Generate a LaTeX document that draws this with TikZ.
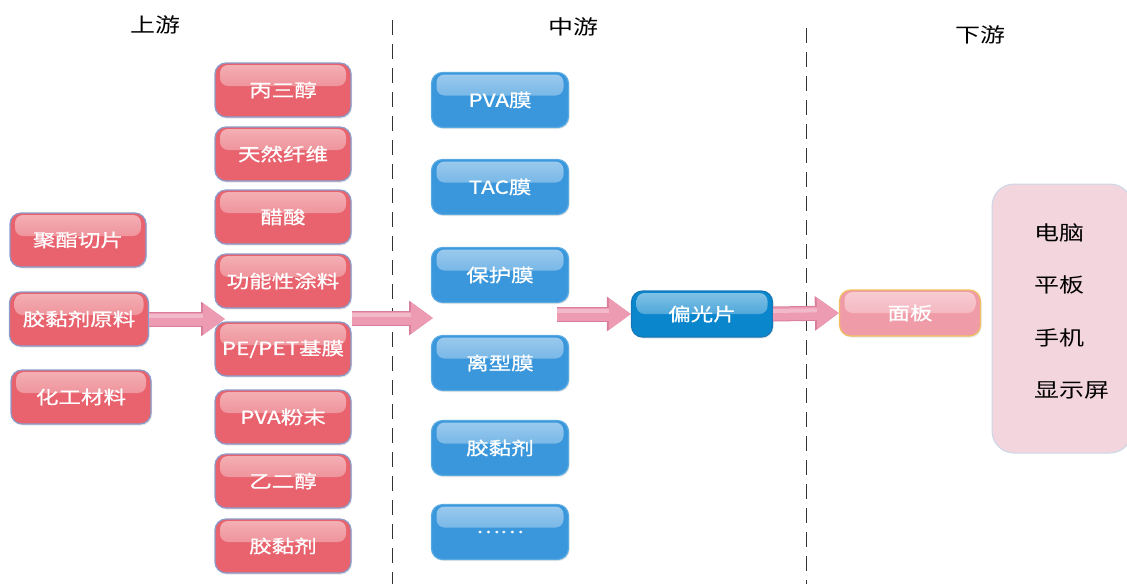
\documentclass[tikz,border=0pt]{standalone}
\usepackage{fontspec}
\newfontfamily\cjk[FakeStretch=1.25]{Noto Sans CJK SC}
\newfontfamily\cjkw[FakeStretch=1.25,FakeBold=0.8]{Noto Sans CJK SC}
\usetikzlibrary{arrows.meta,shadows}
\definecolor{redfill}{HTML}{E8636E}
\definecolor{redline}{HTML}{8A9CCB}
\definecolor{bluefill}{HTML}{3A97DC}
\definecolor{blueline}{HTML}{5AAAE2}
\definecolor{darkblue}{HTML}{0A86CC}
\definecolor{darkblueline}{HTML}{1577B8}
\definecolor{panelfill}{HTML}{F09CA8}
\definecolor{panelline}{HTML}{F0C060}
\definecolor{rightfill}{HTML}{F3D5DE}
\definecolor{rightline}{HTML}{CAD7E8}
\definecolor{arrowfill}{HTML}{EC9BB3}
\definecolor{arrowline}{HTML}{D97D9C}
\begin{document}
\begin{tikzpicture}[x=1pt,y=-1pt,
  gloss/.style={fill=#1, path picture={\shade[top color=white!50!#1, bottom color=#1!94!white, rounded corners=8pt]
     ([xshift=5pt,yshift=-2pt]path picture bounding box.north west) rectangle
     ([xshift=-5pt,yshift=-23pt]path picture bounding box.north east);}},
  box/.style={rounded corners=11pt, line width=1.2pt, minimum width=136pt, minimum height=54pt,
     text=white, font=\cjkw\fontsize{18}{21}\selectfont, inner sep=0pt,
     drop shadow={opacity=0.2, shadow xshift=1pt, shadow yshift=-1.5pt}},
  redbox/.style={box, gloss=redfill, draw=redline},
  bluebox/.style={box, gloss=bluefill, draw=blueline, minimum width=137pt, minimum height=55pt},
  header/.style={font=\cjk\fontsize{20}{23}\selectfont, text=black},
  item/.style={font=\cjk\fontsize{20}{23}\selectfont, text=black, anchor=west, inner sep=0pt},
  divider/.style={line width=1pt, black!80, dash pattern=on 15pt off 9pt},
  blockarrow/.style={line width=13pt, draw=arrowfill, -{Triangle[width=30pt,length=22pt]},
     preaction={draw=arrowline, line width=15pt, -{Triangle[width=33pt,length=24pt]}},
     postaction={draw=white, draw opacity=0.3, line width=4pt, shorten >=22pt, transform canvas={yshift=3pt}, -}}
]
\useasboundingbox (0,0) rectangle (1127,584);

% headers
\node[header] (hup) at (155,25) {上游};
\node[header] (hmid) at (573,27) {中游};
\node[header] (hdown) at (980,35) {下游};

% dividers
\coordinate (d1t) at (392,20); \coordinate (d1b) at (392,584);
\coordinate (d2t) at (806,28); \coordinate (d2b) at (806,584);
\draw[divider] (d1t) -- (d1b);
\draw[divider] (d2t) -- (d2b);

% left column
\node[redbox] (a1) at (78,240) {聚酯切片};
\node[redbox, minimum width=139pt] (a2) at (79,319) {胶黏剂原料};
\node[redbox, minimum width=140pt] (a3) at (81,397) {化工材料};

% second column
\node[redbox] (b1) at (283,90) {丙三醇};
\node[redbox] (b2) at (283,154) {天然纤维};
\node[redbox] (b3) at (283,217) {醋酸};
\node[redbox] (b4) at (283,281) {功能性涂料};
\node[redbox] (b5) at (283,349) {PE/PET基膜};
\node[redbox] (b6) at (283,417) {PVA粉末};
\node[redbox] (b7) at (283,481) {乙二醇};
\node[redbox] (b8) at (283,546) {胶黏剂};

% middle column
\node[bluebox] (c1) at (500,100) {PVA膜};
\node[bluebox] (c2) at (500,187) {TAC膜};
\node[bluebox] (c3) at (500,275) {保护膜};
\node[bluebox] (c4) at (500,363) {离型膜};
\node[bluebox] (c5) at (500,448) {胶黏剂};
\node[bluebox] (c6) at (500,532) {……};

% polarizer & panel
\node[box, gloss=darkblue, draw=darkblueline, minimum width=141pt, minimum height=46pt] (pol) at (702,314) {偏光片};
\node[box, gloss=panelfill, draw=panelline, minimum width=141pt, minimum height=46pt] (pan) at (910,313) {面板};

% right box
\node[rounded corners=22pt, fill=rightfill, draw=rightline, line width=1pt,
      minimum width=140pt, minimum height=269pt] (right) at (1062,318.5) {};
\node[item] (r1) at (1034,233) {电脑};
\node[item] (r2) at (1034,285) {平板};
\node[item] (r3) at (1034,338) {手机};
\node[item] (r4) at (1034,390) {显示屏};

% arrows
\coordinate (e1) at (225,319);
\coordinate (s2) at (352,318);
\coordinate (e2) at (433,318);
\coordinate (s3) at (557,314);
\draw[blockarrow] (a2.east) -- (e1);
\draw[blockarrow] (s2) -- (e2);
\draw[blockarrow] (s3) -- (pol.west);
\draw[blockarrow] (pol.east) -- (pan.west);
\end{tikzpicture}
\end{document}
